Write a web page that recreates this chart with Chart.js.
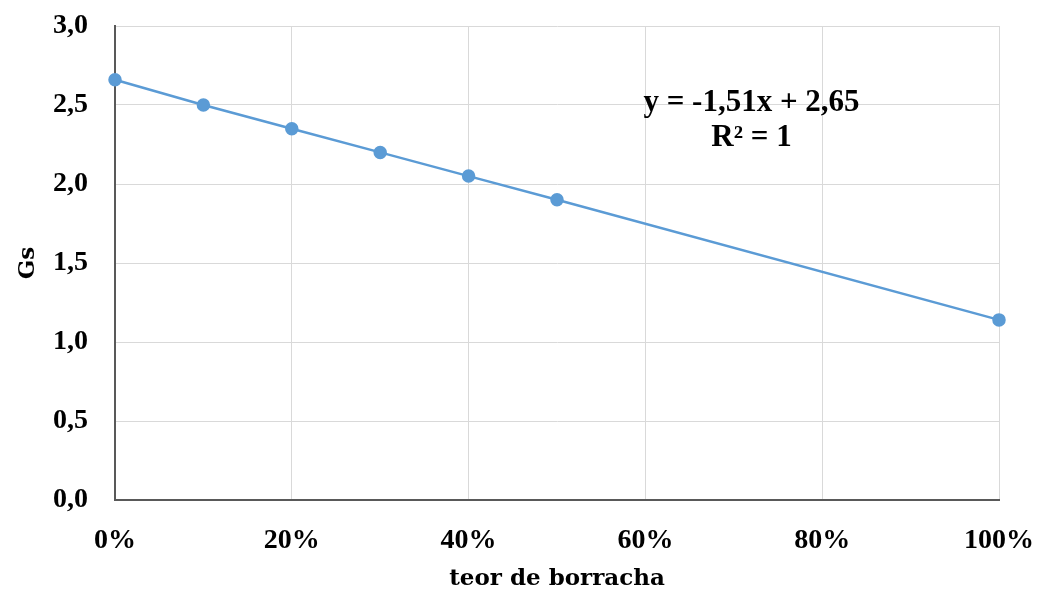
<!DOCTYPE html>
<html>
<head>
<meta charset="utf-8">
<script src="https://cdn.jsdelivr.net/npm/chart.js@4/dist/chart.umd.min.js"></script>
<style>
  html, body { margin: 0; padding: 0; background: #fff; }
  #wrap { width: 1037px; height: 597px; }
</style>
</head>
<body>
<div id="wrap"><canvas id="gsChart" width="1037" height="597"></canvas></div>
<script>
// rubber content (fraction) vs specific gravity Gs
const rubberContent = [0, 0.1, 0.2, 0.3, 0.4, 0.5, 1.0];
const gsValues = [2.66, 2.50, 2.35, 2.20, 2.05, 1.90, 1.14];
const trendLines = ["y = -1,51x + 2,65", "R\u00b2 = 1"];
const trendAnchor = { x: 0.72, y: [2.51, 2.29] };

const tickFont = { family: "'Liberation Serif', 'Times New Roman', serif", size: 28, weight: "bold" };
const titleFont = { family: "'DejaVu Serif', serif", size: 23, weight: "bold" };

const trendLabel = {
  id: "trendLabel",
  afterDatasetsDraw(chart) {
    const { ctx, scales } = chart;
    ctx.save();
    ctx.font = "bold 31px 'Liberation Serif', 'Times New Roman', serif";
    ctx.fillStyle = "#000";
    ctx.textAlign = "center";
    ctx.textBaseline = "middle";
    const px = scales.x.getPixelForValue(trendAnchor.x);
    trendLines.forEach((txt, i) => {
      ctx.fillText(txt, px, scales.y.getPixelForValue(trendAnchor.y[i]));
    });
    ctx.restore();
  },
};

new Chart(document.getElementById("gsChart"), {
  type: "line",
  data: {
    datasets: [
      {
        label: "Gs",
        data: rubberContent.map((x, i) => ({ x, y: gsValues[i] })),
        borderColor: "#5b9bd5",
        backgroundColor: "#5b9bd5",
        borderWidth: 2.5,
        pointRadius: 5.5,
        pointHoverRadius: 5.5,
        tension: 0,
        clip: false,
      },
    ],
  },
  options: {
    responsive: false,
    animation: false,
    layout: { padding: { top: 26, right: 38, left: 0, bottom: 0 } },
    plugins: {
      legend: { display: false },
      tooltip: { enabled: false },
    },
    scales: {
      x: {
        type: "linear",
        min: 0,
        max: 1,
        afterFit: (s) => {
          s.height = 97;
          s.paddingRight = 0;
        },
        ticks: {
          stepSize: 0.2,
          padding: 24,
          color: "#000",
          font: tickFont,
          callback: (v) => `${Math.round(v * 100)}%`,
        },
        grid: { color: "#d9d9d9", lineWidth: 1, drawTicks: false },
        border: { color: "#595959", width: 2 },
        title: {
          display: true,
          text: "teor de borracha",
          color: "#000",
          font: titleFont,
          padding: { top: 0, bottom: 4 },
        },
      },
      y: {
        min: 0,
        max: 3,
        afterFit: (s) => {
          s.width = 115;
          s.paddingTop = 0;
        },
        ticks: {
          stepSize: 0.5,
          padding: 27,
          color: "#000",
          font: tickFont,
          callback: (v) => v.toFixed(1).replace(".", ","),
        },
        grid: { color: "#d9d9d9", lineWidth: 1, drawTicks: false },
        border: { color: "#595959", width: 2 },
        title: {
          display: true,
          text: "Gs",
          color: "#000",
          font: titleFont,
          padding: { top: 14, bottom: 0 },
        },
      },
    },
  },
  plugins: [trendLabel],
});
</script>
</body>
</html>
